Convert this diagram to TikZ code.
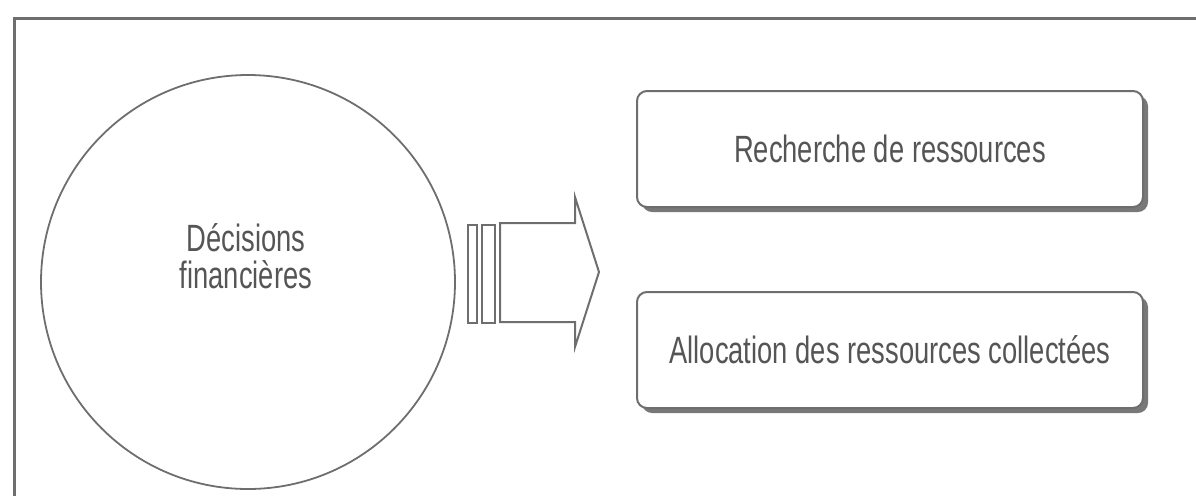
\documentclass[tikz,border=0pt]{standalone}
\usepackage{fontspec}
\usetikzlibrary{shadows}
\newfontfamily\diagfont[FakeStretch=0.72]{Liberation Sans}
\definecolor{linegray}{RGB}{110,110,110}
\definecolor{textgray}{RGB}{85,85,85}
\definecolor{shadowgray}{RGB}{120,120,120}

\begin{document}
\begin{tikzpicture}[x=0.5pt,y=-0.5pt,
                    frame/.style={draw=linegray,line width=1.5pt},
                    label/.style={text=textgray,font=\diagfont\fontsize{19}{18.5}\selectfont,align=center},
                    taskbox/.style={label,draw=linegray,line width=1pt,fill=white,rounded corners=5pt,
                                    minimum width=253pt,minimum height=58pt,
                                    drop shadow={shadow xshift=2.5pt,shadow yshift=-2.5pt,fill=shadowgray,opacity=1}},
                    bigarrow/.style={draw=linegray,line width=1pt}]
  \path[use as bounding box,clip] (0,0) rectangle (1196,495);
  \draw[frame] (14,18) rectangle (1240,540);

  \node[draw=linegray,line width=0.9pt,circle,minimum size=207pt] (circ) at (248,282) {};
  \node[label] (decisions) at (246,256) {Décisions\\financières};

  \draw[bigarrow] (468,225) rectangle (477,323);
  \draw[bigarrow] (482,225) rectangle (495,323);
  \draw[bigarrow] (500,223) -- (575,223) -- (575,197) -- (599,272)
                  -- (575,347) -- (575,322) -- (500,322) -- cycle;

  \node[taskbox] (recherche) at (890,149) {Recherche de ressources};
  \node[taskbox] (allocation) at (890,350) {Allocation des ressources collectées};
\end{tikzpicture}
\end{document}
